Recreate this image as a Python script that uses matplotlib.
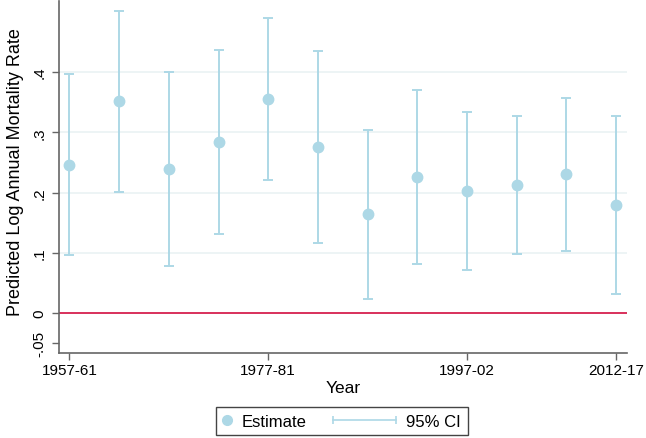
#!/usr/bin/env python
# predicted log annual mortality rate by period, with 95% CI
import matplotlib
matplotlib.use('Agg')
import matplotlib.pyplot as plt
from matplotlib.lines import Line2D
from matplotlib.legend_handler import HandlerBase

periods = ['1957-61', '1962-66', '1967-71', '1972-76', '1977-81', '1982-86',
           '1987-91', '1992-96', '1997-02', '2002-06', '2007-11', '2012-17']
estimate = [0.246, 0.352, 0.239, 0.284, 0.355, 0.276,
            0.164, 0.226, 0.202, 0.213, 0.231, 0.180]
ci_low = [0.096, 0.201, 0.078, 0.132, 0.221, 0.116,
          0.023, 0.082, 0.071, 0.098, 0.104, 0.032]
ci_high = [0.397, 0.502, 0.400, 0.437, 0.489, 0.435,
           0.304, 0.370, 0.334, 0.328, 0.357, 0.328]
shown_ticks = ['1957-61', '1977-81', '1997-02', '2012-17']
y_ticks = [-0.05, 0, 0.1, 0.2, 0.3, 0.4]
y_labels = ['-.05', '0', '.1', '.2', '.3', '.4']

BLUE = '#add8e6'
GRID = '#eaf2f3'
AXC = '#666666'


class HandlerDot(HandlerBase):
  def create_artists(self, legend, orig_handle, xdescent, ydescent,
                     width, height, fontsize, trans):
    dot = Line2D([width / 2 - xdescent], [height / 2 - ydescent],
                 marker='o', color=BLUE, markersize=7, linestyle='None',
                 transform=trans)
    return [dot]


class HandlerCI(HandlerBase):
  # line reaches left into the column gap, caps at both ends
  def create_artists(self, legend, orig_handle, xdescent, ydescent,
                     width, height, fontsize, trans):
    y = height / 2 - ydescent
    x0 = -xdescent - 3.3 * fontsize
    x1 = width - xdescent
    ln = Line2D([x0, x1], [y, y], color=BLUE, lw=1.2, marker='|',
                markersize=6, markeredgewidth=1.2, transform=trans)
    return [ln]


def plot():
  plt.rcParams['font.family'] = ['Liberation Sans', 'DejaVu Sans']
  fig = plt.figure(figsize=(6.46, 4.39), dpi=100)
  ax = fig.add_axes([59 / 646, 85 / 439, 568 / 646, 352 / 439])

  x = list(range(1, len(periods) + 1))
  yerr = [[e - l for e, l in zip(estimate, ci_low)],
          [h - e for e, h in zip(estimate, ci_high)]]

  for yt in [0.1, 0.2, 0.3, 0.4]:
    ax.axhline(yt, color=GRID, lw=1.2, zorder=0)
  ax.axhline(0, color='#d6204e', lw=1.3, zorder=1)

  ax.errorbar(x, estimate, yerr=yerr, fmt='none', ecolor=BLUE,
              elinewidth=1.4, capsize=3.6, capthick=1.4, zorder=2)
  ax.plot(x, estimate, 'o', color=BLUE, markersize=7.5, zorder=3)

  ax.set_xlim(0.79, 12.22)
  ax.set_ylim(-0.066, 0.518)
  ax.set_xticks([periods.index(p) + 1 for p in shown_ticks])
  ax.set_xticklabels(shown_ticks, fontsize=11)
  ax.set_yticks(y_ticks)
  ax.set_yticklabels(y_labels, fontsize=11, rotation=90, va='center')
  ax.tick_params(axis='both', colors=AXC, length=5, width=1, labelcolor='black')
  ax.tick_params(axis='y', pad=4)
  ax.tick_params(axis='x', pad=2)

  for s in ['top', 'right']:
    ax.spines[s].set_visible(False)
  for s in ['left', 'bottom']:
    ax.spines[s].set_color(AXC)
    ax.spines[s].set_linewidth(1.2)

  ax.set_xlabel('Year', fontsize=12.5)
  ax.set_ylabel('Predicted Log Annual Mortality Rate', fontsize=13)
  ax.xaxis.set_label_coords(0.5, -0.077)
  ax.yaxis.set_label_coords(-0.062, 0.517)

  h_est = Line2D([], [])
  h_ci = Line2D([], [])
  leg = fig.legend([h_est, h_ci], ['Estimate', '95% CI'],
                   handler_map={h_est: HandlerDot(), h_ci: HandlerCI()},
                   loc='upper center', bbox_to_anchor=(342 / 646, 1 - 408 / 439),
                   ncol=2, fontsize=12, frameon=True, fancybox=False,
                   handlelength=0.5, handletextpad=0.6, columnspacing=4.9,
                   borderpad=0.4, borderaxespad=0)
  fr = leg.get_frame()
  fr.set_edgecolor('#444444')
  fr.set_linewidth(1.0)
  fr.set_alpha(1)

  plt.savefig('out.png', dpi=100)


plot()
